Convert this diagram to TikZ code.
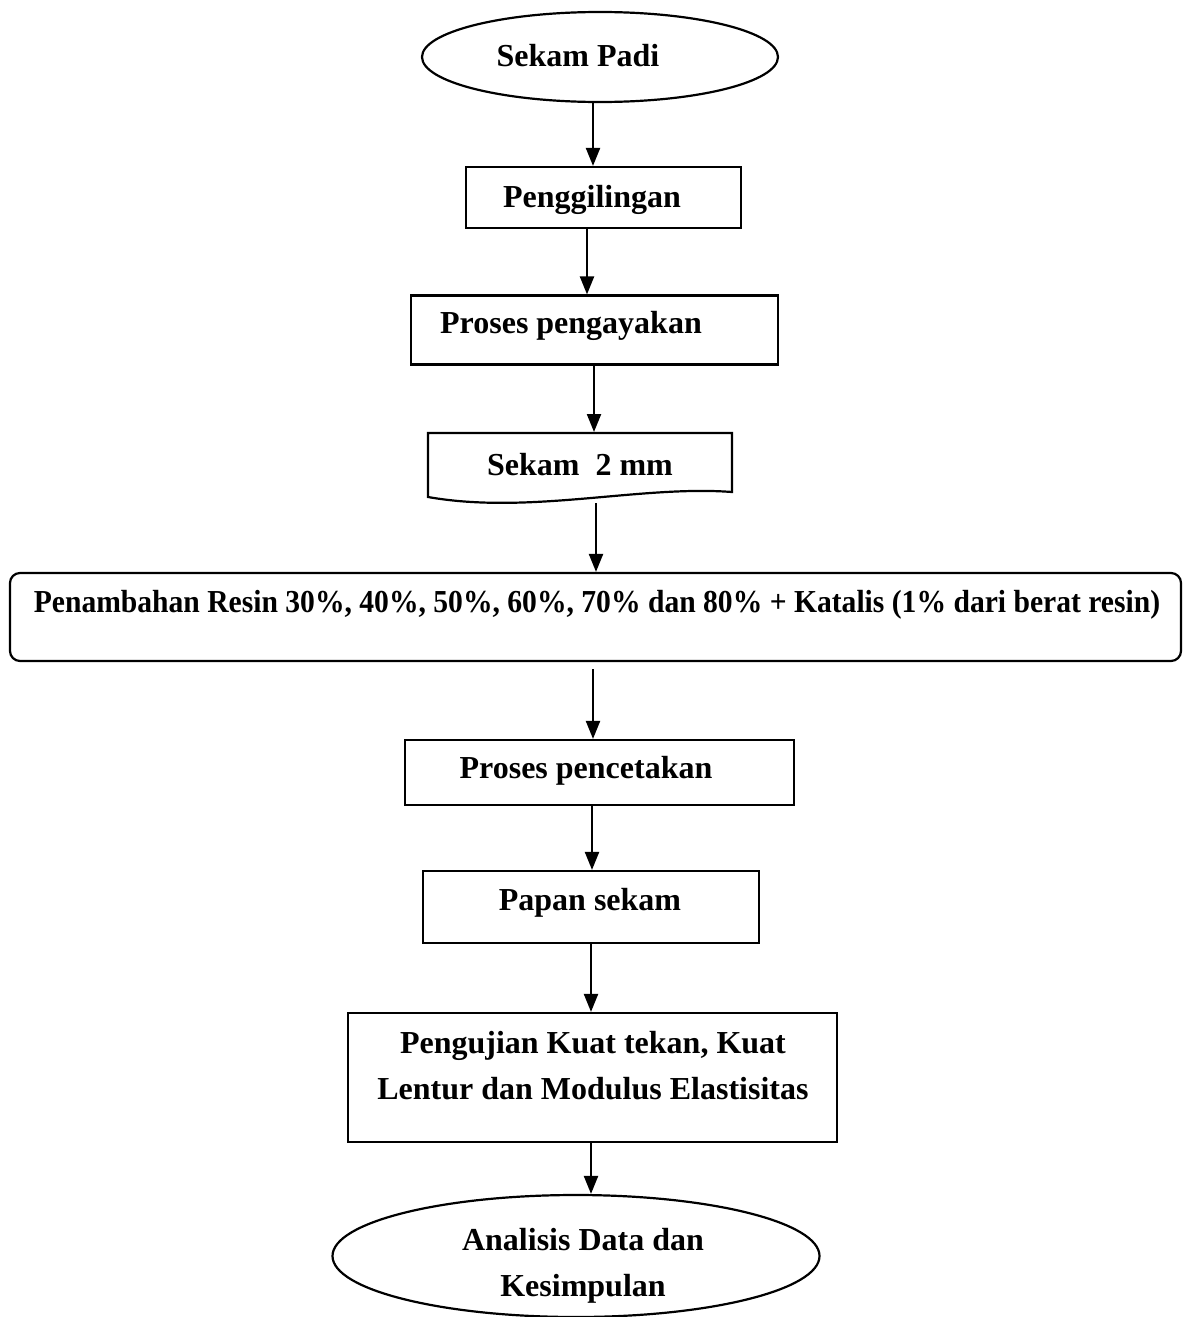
\documentclass[tikz,border=0pt]{standalone}
\usepackage{fontspec}
\setmainfont{Liberation Serif}
\usetikzlibrary{shapes.geometric,arrows.meta}
\begin{document}
\begin{tikzpicture}[x=1pt,y=-1pt,
 line width=2.2pt,
 shapebox/.style={draw, rectangle, inner sep=0pt},
 roundbox/.style={draw, rectangle, rounded corners=10pt, inner sep=0pt},
 oval/.style={draw, ellipse, inner sep=0pt},
 txt/.style={font=\fontsize{32}{46}\selectfont\bfseries, align=center, inner sep=0pt},
 arr/.style={-{Triangle[width=14pt,length=18pt]}}]
\useasboundingbox (0,0) rectangle (1188,1317);

% nodes
\node[oval, minimum width=356pt, minimum height=90pt] (start) at (600,57) {};
\node[txt] (tstart) at (578,56) {Sekam Padi};

\node[shapebox, minimum width=275pt, minimum height=61pt] (b1) at (603.5,197.5) {};
\node[txt] (t1) at (592,200) {Penggilingan};

\node[shapebox, minimum width=367pt, minimum height=69pt] (b2) at (594.5,330) {};
\node[txt] (t2) at (571,326) {Proses pengayakan};

\draw (428,433) -- (732,433) -- (732,492)
  .. controls (640,485) and (530,515) .. (428,497) -- cycle;
\coordinate (docin) at (594,432);
\coordinate (docout) at (596,503);
\node[txt] (tdoc) at (580,465) {Sekam\ \ 2 mm};

\node[roundbox, minimum width=1171pt, minimum height=88pt] (pen) at (595.5,617) {};
\node[txt] (tpen) at (597,605) {\scalebox{0.925}[1]{Penambahan Resin 30\%, 40\%, 50\%, 60\%, 70\% dan 80\% + Katalis (1\% dari berat resin)}};

\node[shapebox, minimum width=389pt, minimum height=65pt] (b3) at (599.5,772.5) {};
\node[txt] (t3) at (586,771) {Proses pencetakan};

\node[shapebox, minimum width=336pt, minimum height=72pt] (b4) at (591,907) {};
\node[txt] (t4) at (590,903) {Papan sekam};

\node[shapebox, minimum width=489pt, minimum height=129pt] (b5) at (592.5,1077.5) {};
\node[txt] (t5) at (593,1066) {Pengujian Kuat tekan, Kuat\\Lentur dan Modulus Elastisitas};

\node[oval, minimum width=487pt, minimum height=122pt] (end) at (576,1256) {};
\node[txt] (tend) at (583,1266) {Analisis Data dan\\Kesimpulan};

% connectors
\draw[arr] (start.south -| 593,0) -- (b1.north -| 593,0);
\draw[arr] (b1.south -| 587,0) -- (b2.north -| 587,0);
\draw[arr] (b2.south -| 594,0) -- (docin);
\draw[arr] (docout) -- (pen.north -| 596,0);
\draw[arr] ([yshift=-7pt]pen.south -| 593,0) -- (b3.north -| 593,0);
\draw[arr] (b3.south -| 592,0) -- (b4.north -| 592,0);
\draw[arr] (b4.south -| 591,0) -- (b5.north -| 591,0);
\draw[arr] (b5.south -| 591,0) -- (end.north -| 591,0);
\end{tikzpicture}
\end{document}
